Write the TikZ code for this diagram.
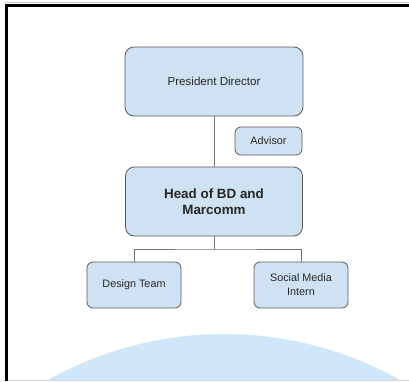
\documentclass[tikz,border=0pt]{standalone}
\usepackage{fontspec}
\setmainfont{Liberation Sans}
\definecolor{boxblue}{HTML}{CFE2F3}
\definecolor{skyblue}{HTML}{CFE7F8}
\definecolor{edgegray}{HTML}{5A5A5A}
\begin{document}
\begin{tikzpicture}[x=1pt, y=-1pt,
  box/.style={draw=edgegray, fill=boxblue, line width=0.8pt,
    rounded corners=9pt, align=center, inner sep=0pt, text=black!85},
  smallbox/.style={box, rounded corners=6pt,
    font=\fontsize{10.8}{14}\selectfont},
  link/.style={draw=black!55, line width=0.8pt}]

\useasboundingbox (0,0) rectangle (409,381);

%% backdrop
\begin{scope}
\clip (0,0) rectangle (409,379.5);
\fill[skyblue] (224,693) circle (359);
\end{scope}
\draw[black!15, line width=1pt] (8,380.5) -- (409,380.5);
\draw[black!20, line width=0.8pt] (5,2.8) -- (409,2.8);
\draw[black, line width=2.6pt] (6.6,381) -- (6.6,5.2) -- (409,5.2);

\node[box, minimum width=178, minimum height=69,
  font=\fontsize{11.6}{14}\selectfont] (pres) at (214,81.5) {President Director};
\node[smallbox, minimum width=67, minimum height=28] (advisor) at (268.5,141) {Advisor};
\node[box, minimum width=177, minimum height=69,
  font=\fontsize{13.4}{16.5}\selectfont\bfseries] (head) at (214,201.5) {Head of BD and\\Marcomm};
\node[smallbox, minimum width=94, minimum height=46] (design) at (134,285) {Design Team};
\node[smallbox, minimum width=94, minimum height=46] (social) at (301,285) {Social Media\\Intern};

\coordinate (fork) at (214,249);
\draw[link] (pres) -- (head);
\draw[link] (head) -- (fork);
\draw[link] (design.north) |- (fork) -| (social.north);

\end{tikzpicture}
\end{document}
